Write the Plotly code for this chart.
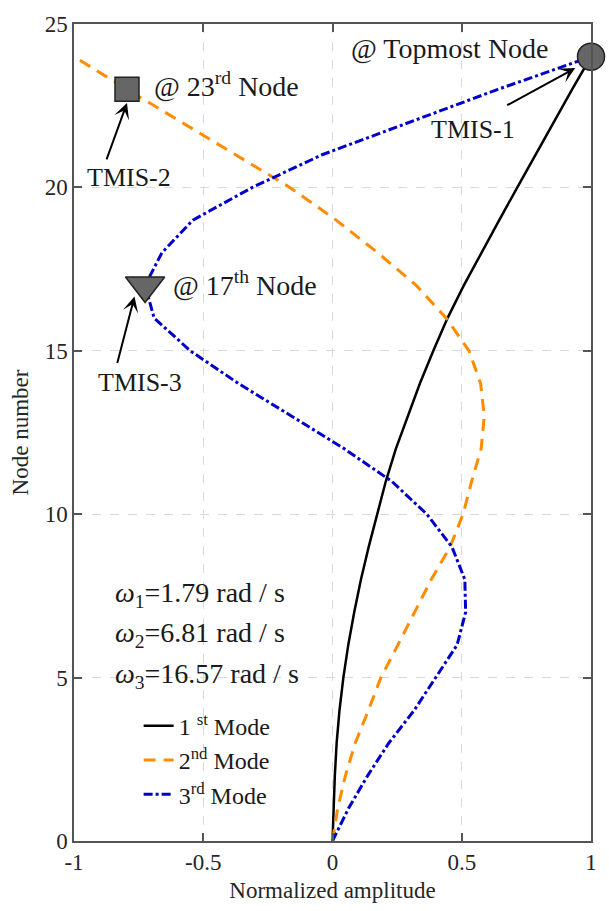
import plotly.graph_objects as go

# Node numbers along the building height
nodes = list(range(25))

# Normalized mode shapes (amplitude at each node)
mode1 = [0, 0.004, 0.009, 0.016, 0.027, 0.042, 0.061, 0.084, 0.11, 0.14, 0.174,
         0.206, 0.245, 0.29, 0.338, 0.39, 0.445, 0.508, 0.575, 0.645, 0.715,
         0.785, 0.855, 0.927, 1.0]
mode2 = [0, 0.02, 0.05, 0.088, 0.139, 0.187, 0.253, 0.317, 0.382, 0.455, 0.505,
         0.538, 0.575, 0.587, 0.573, 0.528, 0.44, 0.324, 0.175, 0.014, -0.165,
         -0.375, -0.586, -0.795, -1.0]
mode3 = [0, 0.062, 0.136, 0.218, 0.316, 0.40, 0.482, 0.515, 0.512, 0.462, 0.365,
         0.23, 0.046, -0.158, -0.364, -0.55, -0.69, -0.725, -0.66, -0.54, -0.31,
         -0.04, 0.30, 0.64, 1.0]

mode_names = ["1 <sup>st</sup> Mode", "2<sup>nd</sup> Mode", "3<sup>rd</sup> Mode"]
omegas = [1.79, 6.81, 16.57]

# Nodes carrying TMIS-1, TMIS-2 and TMIS-3
tmis_nodes = [24, 23, 17]

x_ticks = [-1, -0.5, 0, 0.5, 1]
x_tick_labels = ["-1", "-0.5", "0", "0.5", "1"]
y_ticks = [0, 5, 10, 15, 20, 25]

FONT = "Liberation Serif, Times New Roman, DejaVu Serif, serif"
TXT = "#1a1a1a"

fig = go.Figure()

fig.add_trace(go.Scatter(x=mode1, y=nodes, mode="lines", name=mode_names[0],
                         line=dict(color="black", width=2.5)))
fig.add_trace(go.Scatter(x=mode2, y=nodes, mode="lines", name=mode_names[1],
                         line=dict(color="#FF8C00", width=3, dash="12px,8px")))
fig.add_trace(go.Scatter(x=mode3, y=nodes, mode="lines", name=mode_names[2],
                         line=dict(color="#0000C8", width=3, dash="9px,3px,3px,3px")))

# TMIS markers on the corresponding mode shapes
marker_line = dict(color="#222222", width=1.5)
fig.add_trace(go.Scatter(x=[mode1[tmis_nodes[0]]], y=[tmis_nodes[0]], mode="markers",
                         showlegend=False, cliponaxis=False,
                         marker=dict(symbol="circle", size=27, color="#666666", line=marker_line)))
fig.add_trace(go.Scatter(x=[mode2[tmis_nodes[1]]], y=[tmis_nodes[1]], mode="markers",
                         showlegend=False, cliponaxis=False,
                         marker=dict(symbol="square", size=24, color="#666666", line=marker_line)))
fig.add_trace(go.Scatter(x=[mode3[tmis_nodes[2]]], y=[tmis_nodes[2]], mode="markers",
                         showlegend=False, cliponaxis=False,
                         marker=dict(symbol="triangle-down", size=34, color="#666666", line=marker_line)))


def arrow(x, y, ax, ay):
    fig.add_annotation(x=x, y=y, ax=ax, ay=ay, xref="x", yref="y", axref="x", ayref="y",
                       text="", showarrow=True, arrowhead=3, arrowsize=1.3,
                       arrowwidth=2, arrowcolor="black")


def label(x, y, text, size, xanchor="left"):
    fig.add_annotation(x=x, y=y, xref="x", yref="y", text=text, showarrow=False,
                       xanchor=xanchor, yanchor="middle",
                       font=dict(family=FONT, size=size, color=TXT))


# TMIS-1 at the topmost node
label(0.062, 24.26, "@ Topmost Node", 28)
arrow(0.939, 23.65, 0.67, 22.49)
label(0.543, 21.76, "TMIS-1", 26, xanchor="center")

# TMIS-2 at node 23
label(-0.699, 23.14, "@ 23<sup>rd</sup> Node", 28)
arrow(-0.795, 22.58, -0.876, 20.81)
label(-0.789, 20.3, "TMIS-2", 26, xanchor="center")

# TMIS-3 at node 17
label(-0.623, 17.06, "@ 17<sup>th</sup> Node", 28)
arrow(-0.766, 16.66, -0.834, 14.58)
label(-0.744, 14.02, "TMIS-3", 26, xanchor="center")

# Natural frequencies
for i, (w, yy) in enumerate(zip(omegas, [7.54, 6.32, 5.05])):
    label(-0.85, yy, f"<i>ω</i><sub>{i + 1}</sub>={w:.2f} rad / s", 28)

axis_common = dict(
    showline=True, linecolor="#555555", linewidth=1.5, mirror="ticks",
    ticks="inside", ticklen=8, tickwidth=1.5, tickcolor="#555555",
    showgrid=True, gridcolor="#d9d9d9", gridwidth=1, griddash="dash",
    zeroline=False, tickfont=dict(family=FONT, size=23, color="#262626"),
    title_font=dict(family=FONT, size=23, color="#262626"),
)

fig.update_xaxes(range=[-1, 1], tickvals=x_ticks, ticktext=x_tick_labels,
                 title_text="Normalized amplitude", title_standoff=8, **axis_common)
fig.update_yaxes(range=[0, 25], tickvals=y_ticks,
                 title_text="Node number", title_standoff=10, **axis_common)

fig.update_layout(
    width=609, height=911,
    margin=dict(l=74, r=14, t=20, b=68),
    plot_bgcolor="white", paper_bgcolor="white",
    legend=dict(x=0.125, y=0.168, xanchor="left", yanchor="top",
                bgcolor="rgba(0,0,0,0)", font=dict(family=FONT, size=24, color=TXT)),
)

fig.write_html("out.html")
